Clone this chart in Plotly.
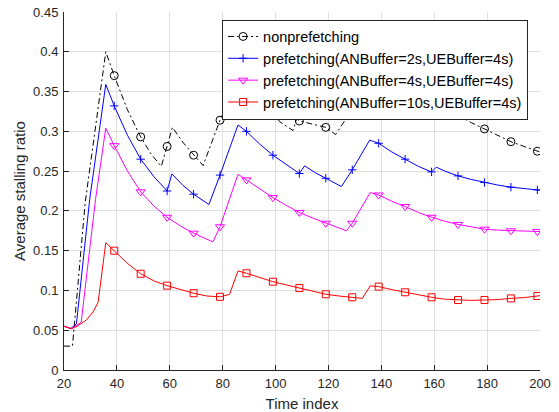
import plotly.graph_objects as go

# ---------------- data ----------------
marker_t = [39, 49, 59, 69, 79, 89, 99, 109, 119, 129, 139, 149, 159, 169, 179, 189, 199]

t_non = [20, 23.2, 28, 35.8, 39, 44, 49, 53, 56.8, 59, 61, 65, 69, 72.6, 79, 86, 92, 99,
         101.6, 106.6, 108, 109, 114, 119, 122.7, 129, 135.5, 142, 149, 152, 157, 159,
         160.5, 164, 169, 174, 179, 184, 189, 194, 199, 200]
v_non = [0.030, 0.030, 0.210, 0.400, 0.370, 0.327, 0.293, 0.271, 0.256, 0.281, 0.305, 0.286,
         0.270, 0.257, 0.314, 0.365, 0.341, 0.323, 0.312, 0.301, 0.316, 0.313, 0.309, 0.305,
         0.296, 0.327, 0.360, 0.344, 0.329, 0.326, 0.319, 0.327, 0.331, 0.327, 0.320, 0.311,
         0.303, 0.295, 0.287, 0.281, 0.275, 0.274]

t_an2 = [20, 22.5, 24.7, 29.7, 35.8, 39, 44, 49, 54, 59, 60.8, 65, 69, 74.8, 79, 85.8, 89, 94,
         99, 104, 109, 111, 115, 119, 124.9, 129, 135.6, 139, 144, 149, 154, 159, 160.8, 164,
         169, 174, 179, 184, 189, 194, 199, 200]
v_an2 = [0.055, 0.052, 0.058, 0.214, 0.359, 0.332, 0.295, 0.265, 0.243, 0.225, 0.2465, 0.232,
         0.221, 0.208, 0.245, 0.308, 0.300, 0.284, 0.270, 0.258, 0.247, 0.2566, 0.248, 0.241,
         0.2306, 0.2516, 0.289, 0.285, 0.274, 0.265, 0.256, 0.249, 0.255, 0.250, 0.244, 0.2395,
         0.2356, 0.2325, 0.2298, 0.228, 0.2264, 0.226]

t_an4 = [20, 22.8, 26.5, 31.9, 35.8, 39, 44, 49, 54, 59, 64, 69, 76.3, 79, 85.8, 89, 94, 99,
         104, 109, 114, 119, 126.8, 129, 135.8, 139, 144, 149, 154, 159, 164, 169, 174, 179,
         184, 189, 194, 199, 200]
v_an4 = [0.055, 0.052, 0.060, 0.214, 0.304, 0.282, 0.250, 0.224, 0.206, 0.192, 0.181, 0.172,
         0.161, 0.180, 0.246, 0.239, 0.227, 0.2167, 0.207, 0.198, 0.191, 0.1845, 0.175, 0.1845,
         0.223, 0.220, 0.212, 0.2055, 0.198, 0.192, 0.187, 0.183, 0.180, 0.177, 0.1758, 0.175,
         0.1745, 0.174, 0.174]

t_an10 = [20, 22.8, 25, 28.5, 31, 32.9, 35.8, 39, 44, 49, 54, 59, 64, 69, 74, 79, 82.6, 85.8,
          89, 94, 99, 104, 109, 114, 119, 124, 129, 132.8, 135.8, 139, 144, 149, 154, 159, 164,
          169, 174, 179, 184, 189, 194, 199, 200]
v_an10 = [0.055, 0.052, 0.055, 0.063, 0.073, 0.085, 0.160, 0.150, 0.134, 0.121, 0.112, 0.106,
          0.101, 0.0965, 0.093, 0.092, 0.095, 0.1245, 0.1216, 0.116, 0.111, 0.107, 0.103, 0.099,
          0.0952, 0.093, 0.0914, 0.090, 0.1057, 0.1048, 0.101, 0.0977, 0.094, 0.0914, 0.089,
          0.088, 0.0875, 0.088, 0.0885, 0.090, 0.091, 0.093, 0.0935]

names = ["nonprefetching",
         "prefetching(ANBuffer=2s,UEBuffer=4s)",
         "prefetching(ANBuffer=4s,UEBuffer=4s)",
         "prefetching(ANBuffer=10s,UEBuffer=4s)"]

x_ticks = [20, 40, 60, 80, 100, 120, 140, 160, 180, 200]
y_ticks = [0, 0.05, 0.1, 0.15, 0.2, 0.25, 0.3, 0.35, 0.4, 0.45]
y_tick_labels = ["0", "0.05", "0.1", "0.15", "0.2", "0.25", "0.3", "0.35", "0.4", "0.45"]

# ---------------- styles ----------------
series = [
    (names[0], t_non, v_non, "#000000", "6px,3px,2px,3px", "circle-open", 8),
    (names[1], t_an2, v_an2, "#0000ff", "solid", "cross-thin-open", 6),
    (names[2], t_an4, v_an4, "#ff00ff", "solid", "triangle-down-open", 8),
    (names[3], t_an10, v_an10, "#ff0000", "solid", "square-open", 7),
]

fig = go.Figure()
for name, t, v, color, dash, sym, size in series:
    lookup = dict(zip(t, v))
    mt = [m for m in marker_t if m in lookup]
    mv = [lookup[m] for m in mt]
    fig.add_trace(go.Scatter(x=t, y=v, mode="lines", line=dict(color=color, width=1, dash=dash),
                             showlegend=False, legendgroup=name, hoverinfo="skip"))
    fig.add_trace(go.Scatter(x=mt, y=mv, mode="markers",
                             marker=dict(symbol=sym, size=size, color=color, line=dict(color=color, width=1)),
                             showlegend=False, legendgroup=name))
    fig.add_trace(go.Scatter(x=[None], y=[None], mode="lines+markers", name=name, legendgroup=name,
                             line=dict(color=color, width=1, dash=dash),
                             marker=dict(symbol=sym, size=size, color=color, line=dict(color=color, width=1))))

axis_color = "#262626"
grid_color = "#dfdfdf"
font_family = "Liberation Sans, Arial, Helvetica, sans-serif"

fig.update_layout(
    width=559, height=412,
    margin=dict(l=64, r=19, t=12, b=42),
    paper_bgcolor="white", plot_bgcolor="white",
    font=dict(family=font_family, size=13, color=axis_color),
    showlegend=True,
    legend=dict(x=0.975, y=0.979, xanchor="right", yanchor="top",
                bgcolor="white", bordercolor=axis_color, borderwidth=1,
                font=dict(family=font_family, size=14.5, color="#000000"),
                tracegroupgap=0, itemwidth=30),
    xaxis=dict(range=[20, 200], tickvals=x_ticks, ticktext=[str(v) for v in x_ticks],
               automargin=False,
               showgrid=True, gridcolor=grid_color, gridwidth=1, zeroline=False,
               showline=True, linecolor=axis_color, linewidth=1,
               ticks="inside", ticklen=5, tickcolor=axis_color, ticklabelstandoff=1,
               tickfont=dict(size=13, color=axis_color),
               title=dict(text="Time index", font=dict(size=15, color=axis_color), standoff=10)),
    yaxis=dict(range=[0, 0.45], tickvals=y_ticks, ticktext=y_tick_labels,
               automargin=False,
               showgrid=True, gridcolor=grid_color, gridwidth=1, zeroline=False,
               showline=True, linecolor=axis_color, linewidth=1,
               ticks="inside", ticklen=5, tickcolor=axis_color, ticklabelstandoff=2,
               tickfont=dict(size=13, color=axis_color),
               title=dict(text="Average stalling ratio", font=dict(size=15, color=axis_color), standoff=3)),
)

fig.write_html("out.html",
               config={"displayModeBar": False},
               post_script="document.body.style.margin='0';document.body.style.overflow='hidden';")
